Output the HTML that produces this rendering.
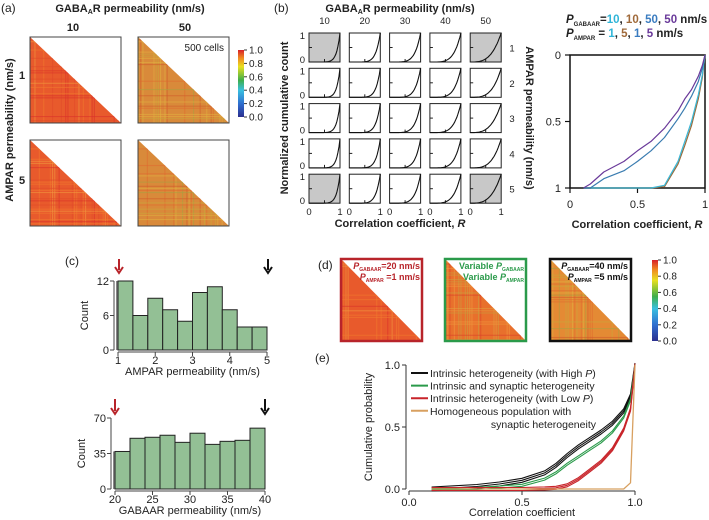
<!DOCTYPE html>
<html><head><meta charset="utf-8"><style>
body{margin:0;background:#fff}
svg{display:block;font-family:"Liberation Sans",sans-serif}
</style></head><body>
<svg id="fig" width="709" height="520" viewBox="0 0 709 520" xmlns="http://www.w3.org/2000/svg">
<defs>
<linearGradient id="jet" x1="0" y1="1" x2="0" y2="0">
<stop offset="0" stop-color="#2b2f8f"/><stop offset="0.2" stop-color="#2f6fd0"/><stop offset="0.4" stop-color="#39c0e0"/><stop offset="0.55" stop-color="#3fae4a"/><stop offset="0.75" stop-color="#e8e020"/><stop offset="0.88" stop-color="#f08a20"/><stop offset="1" stop-color="#d8202a"/>
</linearGradient>
</defs>
<g id="layer"></g>
</svg>
<script>
// ---- data ----
const ampHistCounts=[12,6,9,7,5,10,11,7,4,4];
const ampTicks=[1,2,3,4,5];
const ampYTicks=[0,6,12];
const gabHistCounts=[37,50,51,53,46,55,44,47,48,60];
const gabTicks=[20,25,30,35,40];
const gabYTicks=[0,35,70];
const gridCols=[10,20,30,40,50];
const gridRows=[1,2,3,4,5];
const gridSteep=[9,7,5.5,4.5,3.2];
const bR=[0.1,0.15,0.25,0.4,0.5,0.6,0.7,0.8,0.85,0.9,0.95,0.98,1.0];
const bPurple=[1,0.97,0.88,0.8,0.72,0.65,0.55,0.42,0.33,0.26,0.16,0.08,0];
const bBlue=[1,1,0.93,0.87,0.8,0.72,0.62,0.48,0.4,0.31,0.2,0.1,0];
const bCyan=[1,1,1,1,1,1,0.98,0.8,0.65,0.5,0.3,0.15,0];
const bBrown=[1,1,1,1,1,1,0.99,0.82,0.68,0.53,0.33,0.17,0];
const eR=[0.1,0.2,0.3,0.4,0.5,0.6,0.65,0.7,0.75,0.8,0.85,0.9,0.95,0.98,1.0];
const eBlack=[0,0.01,0.02,0.04,0.07,0.13,0.19,0.27,0.34,0.4,0.46,0.53,0.63,0.75,1];
const eGreen=[0,0,0.005,0.015,0.03,0.08,0.13,0.2,0.26,0.32,0.38,0.46,0.58,0.72,1];
const eRed=[0,0,0,0,0,0.005,0.01,0.03,0.08,0.15,0.22,0.32,0.48,0.64,1];
const eOrange=[0,0,0,0,0,0,0,0,0,0,0,0,0,0.05,1];
const cbTicks=[0,0.2,0.4,0.6,0.8,1.0];

const NS="http://www.w3.org/2000/svg";
const L=document.getElementById('layer');
function mk(tag,attrs,parent,text){const e=document.createElementNS(NS,tag);for(const k in attrs)e.setAttribute(k,attrs[k]);if(text!==undefined)e.textContent=text;(parent||L).appendChild(e);return e;}
function T(x,y,s,size,opt){opt=opt||{};const e=mk('text',{x:x,y:y,'font-size':size||11,'text-anchor':opt.a||'middle',fill:opt.fill||'#222','font-weight':opt.w||'normal'},opt.p,s);if(opt.rot)e.setAttribute('transform','rotate('+opt.rot+' '+x+' '+y+')');if(opt.style)e.setAttribute('font-style',opt.style);return e;}

// seeded random for heatmap texture
let seed=7;function rnd(){seed=(seed*16807)%2147483647;return seed/2147483647;}
function heat(x,y,w,h,base,cols,name){
  const g=mk('g',{});
  
  
  const id='c'+Math.floor(rnd()*1e9);
  const cp=mk('clipPath',{id:id},g);
  mk('polygon',{points:`${x},${y} ${x},${y+h} ${x+w},${y+h}`},cp);
  const gg=mk('g',{'clip-path':`url(#${id})`},g);
  mk('rect',{x:x,y:y,width:w,height:h,fill:base},gg);
  for(let i=0;i<w;i+=2.2){const c=cols[Math.floor(rnd()*cols.length)];if(rnd()<0.45){mk('rect',{x:x+i,y:y,width:1.1,height:h,fill:c,opacity:0.55},gg);mk('rect',{x:x,y:y+i*h/w,width:w,height:1.1,fill:c,opacity:0.55},gg);}}
}

// ===== Panel (a) =====
T(1,12,'(a)',12,{a:'start'});
T(130,12,'GABA',11,{w:'bold'}).innerHTML='GABA<tspan font-size="7" dy="2">A</tspan><tspan dy="-2">R permeability (nm/s)</tspan>';
T(73,31,'10',11,{w:'bold'});T(185,31,'50',11,{w:'bold'});
T(22,79,'1',11,{w:'bold'});T(22,184,'5',11,{w:'bold'});
T(13,130,'AMPAR permeability (nm/s)',11,{w:'bold',rot:-90});
const redCols=['#f07a30','#d8302a','#f09a40','#e04a2a'];
const oliveCols=['#c9a83a','#e06a30','#a8a040','#e0b040','#d05a2a'];
[[30,37,'#e85a2c',redCols,'heatmap-g10-a1'],[138,37,'#d98a3a',oliveCols,'heatmap-g50-a1'],[30,140,'#e85a2c',redCols,'heatmap-g10-a5'],[138,140,'#d98a3a',oliveCols,'heatmap-g50-a5']].forEach(p=>{heat(p[0],p[1],91,86,p[2],p[3],p[4]);mk('rect',{x:p[0],y:p[1],width:91,height:86,fill:'none',stroke:'#444','stroke-width':1});});
T(224,51,'500 cells',10,{a:'end'});
function colorbar(x,y,h,name){const g=mk('g',{});
 mk('rect',{x:x,y:y,width:6,height:h,fill:'url(#jet)'},g);
 cbTicks.forEach(v=>{const yy=y+h-v*h;mk('line',{x1:x+6,x2:x+9,y1:yy,y2:yy,stroke:'#333'},g);T(x+11,yy+3.5,v.toFixed(1),10,{a:'start',p:g});});}
colorbar(238,50,67,'colorbar-a');

// ===== Panel (b) grid =====
T(274,12,'(b)',12,{a:'start'});
T(400,12,'',11,{w:'bold'}).innerHTML='GABA<tspan font-size="7" dy="2">A</tspan><tspan dy="-2">R permeability (nm/s)</tspan>';
T(288,118,'Normalized cumulative count',11,{w:'bold',rot:-90});
T(526,118,'AMPAR permeability (nm/s)',11,{w:'bold',rot:90});
T(400,227,'Correlation coefficient, ',11,{w:'bold'}).innerHTML='Correlation coefficient, <tspan font-style="italic">R</tspan>';
const gx0=309,gdx=40.3,gw=31,gy0=33,gdy=35.3,gh=29;
gridCols.forEach((c,ci)=>{
  const x=gx0+ci*gdx;
  T(x+gw/2,24,String(c),9.5);
  gridRows.forEach((r,ri)=>{
    const y=gy0+ri*gdy;
    const g=mk('g',{});
    
    
    const shaded=(ci===0||ci===4)&&(ri===0||ri===4);
    mk('rect',{x:x,y:y,width:gw,height:gh,fill:shaded?'#c8c8c8':'#fff',stroke:'#222','stroke-width':1},g);
    mk('line',{x1:x,x2:x+3,y1:y+gh/2,y2:y+gh/2,stroke:'#222'},g);
    mk('line',{x1:x+gw/2,x2:x+gw/2,y1:y+gh,y2:y+gh-3,stroke:'#222'},g);
    const k=gridSteep[ci]+(ri%2)*0.3;let d='';
    for(let i=0;i<=30;i++){const t=i/30;const v=Math.pow(t,k);d+=(i?'L':'M')+(x+t*gw).toFixed(1)+','+(y+gh-v*gh).toFixed(1);}
    mk('path',{d:d,fill:'none',stroke:'#111','stroke-width':1.1},g);
    if(ci===0){T(x-4,y+6,'1',9.5,{a:'end'});T(x-4,y+gh+1,'0',9.5,{a:'end'});}
    if(ri===4){T(x,y+gh+12,'0',9.5);T(x+gw,y+gh+12,'1',9.5);}
  });
  if(ci===4) gridRows.forEach((r,ri)=>T(512,gy0+ri*gdy+gh/2+4,String(r),9.5));
});

// ===== Panel (b) right plot =====
const bx0=570,bx1=705,by0=55,by1=188;
const bX=v=>bx0+v*(bx1-bx0), bY=v=>by0+v*(by1-by0);
const bl=mk('g',{});
T(566,23,'',11.5,{a:'start',w:'bold',p:bl}).innerHTML='<tspan font-style="italic">P</tspan><tspan font-size="6" dy="3">GABAAR</tspan><tspan dy="-3">=</tspan><tspan fill="#2fb5d8">10</tspan>, <tspan fill="#a06a3a">10</tspan>, <tspan fill="#3a7cc0">50</tspan>, <tspan fill="#6a3a9a">50</tspan> nm/s';
T(566,37,'',11.5,{a:'start',w:'bold',p:bl}).innerHTML='<tspan font-style="italic">P</tspan><tspan font-size="6" dy="3">AMPAR</tspan><tspan dy="-3"> =  </tspan><tspan fill="#2fb5d8">1</tspan>,  <tspan fill="#a06a3a">5</tspan>,  <tspan fill="#3a7cc0">1</tspan>,  <tspan fill="#6a3a9a">5</tspan> nm/s';
mk('rect',{x:bx0,y:by0,width:bx1-bx0,height:by1-by0,fill:'none',stroke:'#111','stroke-width':1.5});
[0,0.5,1].forEach(v=>{mk('line',{x1:bx0-5,x2:bx0,y1:bY(v),y2:bY(v),stroke:'#111','stroke-width':1.2});T(bx0-9,bY(v)+4,String(v),11,{a:'end'});
 mk('line',{x1:bX(v),x2:bX(v),y1:by1,y2:by1+5,stroke:'#111','stroke-width':1.2});T(bX(v),by1+20,String(v),11);});
T(637,228,'',11,{w:'bold'}).innerHTML='Correlation coefficient, <tspan font-style="italic">R</tspan>';
function line(xs,ys,X,Y,col,name,w,dy){const p=mk('path',{d:xs.map((x,i)=>(i?'L':'M')+X(x).toFixed(1)+','+(Y(ys[i])+(dy||0)).toFixed(1)).join(''),fill:'none',stroke:col,'stroke-width':w||1.2,'stroke-linejoin':'round'});return p;}
line(bR,bBrown,bX,bY,'#9a6a3a','curve-g10-a5');
line(bR,bCyan,bX,bY,'#3ab8d8','curve-g10-a1');
line(bR,bBlue,bX,bY,'#3a7cb0','curve-g50-a1');
line(bR,bPurple,bX,bY,'#6a3a9a','curve-g50-a5');

// ===== Panel (c) =====
T(65,265,'(c)',12,{a:'start'});
function hist(counts,ticks,yt,xa,xb,ya,yb,name,xlabel){
  const n=counts.length,ymax=yt[yt.length-1];
  const X=v=>xa+(v-ticks[0])/(ticks[ticks.length-1]-ticks[0])*(xb-xa);
  const Y=v=>ya-v/ymax*(ya-yb);
  const bw=(xb-xa)/n;
  mk('rect',{x:xa-2,y:Y(counts[0]),width:2,height:ya-Y(counts[0]),fill:'#888'});
  counts.forEach((c,i)=>{const r=mk('rect',{x:xa+i*bw,y:Y(c),width:bw,height:ya-Y(c),fill:'#93c095',stroke:'#222','stroke-width':1});});
  mk('line',{x1:xa-4,x2:xa-4,y1:yb,y2:ya,stroke:'#444'});
  mk('line',{x1:xa,x2:xb,y1:ya+2,y2:ya+2,stroke:'#444'});
  yt.forEach(v=>{mk('line',{x1:xa-8,x2:xa-4,y1:Y(v),y2:Y(v),stroke:'#444'});T(xa-9,Y(v)+4,String(v),11,{a:'end'});});
  ticks.forEach(v=>{mk('line',{x1:X(v),x2:X(v),y1:ya+2,y2:ya+6,stroke:'#444'});T(X(v),ya+14,String(v),11);});
  T((xa+xb)/2,ya+25,xlabel,11);
  T(xa-30,(ya+yb)/2,'Count',11,{rot:-90});
}
hist(ampHistCounts,ampTicks,ampYTicks,118,267,350,281,'ampar-hist','AMPAR permeability (nm/s)');
hist(gabHistCounts,gabTicks,gabYTicks,115,265,489,418,'gabaar-hist','GABAAR permeability (nm/s)');
function arrow(x,y,h,col,name){const g=mk('g',{});mk('line',{x1:x,x2:x,y1:y,y2:y+h-3,stroke:col,'stroke-width':2},g);mk('path',{d:`M${x-4},${y+h-6}L${x},${y+h}L${x+4},${y+h-6}`,fill:'none',stroke:col,'stroke-width':2},g);}
arrow(119,259,14,'#b8242a','red-arrow-ampar');arrow(268,259,14,'#111','black-arrow-ampar');
arrow(115,399,15,'#b8242a','red-arrow-gabaar');arrow(265,399,15,'#111','black-arrow-gabaar');

// ===== Panel (d) =====
T(318,269,'(d)',12,{a:'start'});
heat(341,259,81,82,'#e85a2c',redCols,'heatmap-low-p');
mk('rect',{x:341,y:259,width:81,height:82,fill:'none',stroke:'#b8242a','stroke-width':2.5});
heat(445,259,81,82,'#e8702c',['#f09a40','#d8402a','#e0a040','#c8a040'],'heatmap-variable-p');
mk('rect',{x:445,y:259,width:81,height:82,fill:'none',stroke:'#2a9a4a','stroke-width':2.5});
heat(550,259,81,82,'#e48a34',oliveCols,'heatmap-high-p');
mk('rect',{x:550,y:259,width:81,height:82,fill:'none',stroke:'#111','stroke-width':2.5});
T(420,269,'',9,{a:'end',w:'bold',fill:'#b8242a'}).innerHTML='<tspan font-style="italic">P</tspan><tspan font-size="5" dy="2">GABAAR</tspan><tspan dy="-2">=20 nm/s</tspan>';
T(420,280,'',9,{a:'end',w:'bold',fill:'#b8242a'}).innerHTML='<tspan font-style="italic">P</tspan><tspan font-size="5" dy="2">AMPAR</tspan><tspan dy="-2"> =1 nm/s</tspan>';
T(524,269,'',9,{a:'end',w:'bold',fill:'#2a9a4a'}).innerHTML='Variable <tspan font-style="italic">P</tspan><tspan font-size="5" dy="2">GABAAR</tspan>';
T(524,280,'',9,{a:'end',w:'bold',fill:'#2a9a4a'}).innerHTML='Variable <tspan font-style="italic">P</tspan><tspan font-size="5" dy="2">AMPAR</tspan>';
T(628,269,'',9,{a:'end',w:'bold',fill:'#111'}).innerHTML='<tspan font-style="italic">P</tspan><tspan font-size="5" dy="2">GABAAR</tspan><tspan dy="-2">=40 nm/s</tspan>';
T(628,280,'',9,{a:'end',w:'bold',fill:'#111'}).innerHTML='<tspan font-style="italic">P</tspan><tspan font-size="5" dy="2">AMPAR</tspan><tspan dy="-2"> =5 nm/s</tspan>';
colorbar(652,260,81,'colorbar-d');

// ===== Panel (e) =====
T(315,362,'(e)',12,{a:'start'});
const ex0=409,ex1=635,ey0=489,ey1=365;
const eX=v=>ex0+v*(ex1-ex0), eY=v=>ey0-v*(ey0-ey1);
mk('line',{x1:ex0-3,x2:ex0-3,y1:ey1,y2:ey0,stroke:'#333'});
mk('line',{x1:ex0,x2:ex1,y1:ey0+2,y2:ey0+2,stroke:'#333'});
[0,0.5,1].forEach(v=>{mk('line',{x1:ex0-7,x2:ex0-3,y1:eY(v),y2:eY(v),stroke:'#333'});T(ex0-9,eY(v)+4,v.toFixed(1),11,{a:'end'});
 mk('line',{x1:eX(v),x2:eX(v),y1:ey0+2,y2:ey0+6,stroke:'#333'});T(eX(v),ey0+17,v.toFixed(1),11);});
T(522,516,'Correlation coefficient',11);
T(372,427,'Cumulative probability',11,{rot:-90});
[-2,0,2].forEach((o,i)=>line(eR,eBlack,eX,eY,'#111','curve-high-p-'+i,1.1,o));
[-1,1].forEach((o,i)=>line(eR,eGreen,eX,eY,'#2a9a4a','curve-variable-p-'+i,1.1,o));
[-1.5,0,1.5].forEach((o,i)=>line(eR,eRed,eX,eY,'#c8242a','curve-low-p-'+i,1.1,o));
line(eR,eOrange,eX,eY,'#d8a060','curve-homogeneous',1.3);
const leg=[['#111','Intrinsic heterogeneity (with High ','P',')'],['#2a9a4a','Intrinsic and synaptic heterogeneity','',''],['#c8242a','Intrinsic heterogeneity (with Low ','P',')'],['#d8a060','Homogeneous population with','','']];
leg.forEach((l,i)=>{const y=373+i*12.6;const g=mk('g',{});
 mk('line',{x1:411,x2:428,y1:y,y2:y,stroke:l[0],'stroke-width':2},g);
 T(430,y+4,'',10.5,{a:'start',p:g}).innerHTML=l[1]+(l[2]?'<tspan font-style="italic">'+l[2]+'</tspan>'+l[3]:'');});
T(596,428,'synaptic heterogeneity',10.5,{a:'end'});
</script>
</body></html>
